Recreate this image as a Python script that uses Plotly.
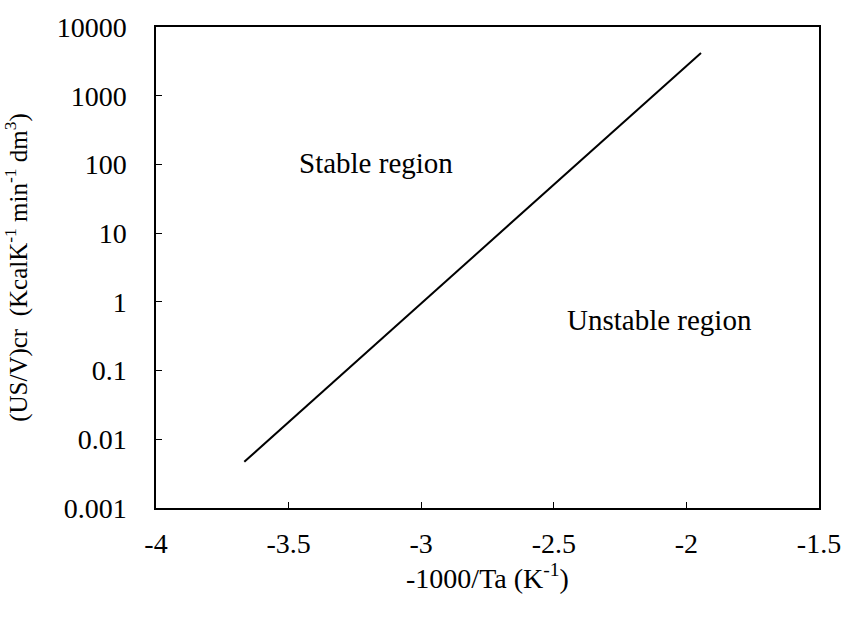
import math
import plotly.graph_objects as go

# Data
x_line = [-3.667, -1.945]
y_line = [0.0047, 4200]

x_tickvals = [-4, -3.5, -3, -2.5, -2, -1.5]
x_ticktext = ["-4", "-3.5", "-3", "-2.5", "-2", "-1.5"]
y_tickvals = [0.001, 0.01, 0.1, 1, 10, 100, 1000, 10000]
y_ticktext = ["0.001", "0.01", "0.1", "1", "10", "100", "1000", "10000"]

labels = ["Stable region", "Unstable region"]
label_x = [-3.17, -2.1]
label_y = [105, 0.55]

FONT = "Liberation Serif, Times New Roman, serif"

fig = go.Figure()
fig.add_trace(go.Scatter(x=x_line, y=y_line, mode="lines",
                         line=dict(color="black", width=2), showlegend=False))

for t, xx, yy in zip(labels, label_x, label_y):
    # annotations on a log axis take log10 positions
    fig.add_annotation(x=xx, y=math.log10(yy), yref="y", xref="x", text=t, showarrow=False,
                       font=dict(family=FONT, size=29, color="black"))

fig.update_layout(
    width=853, height=618,
    margin=dict(l=156, r=23, t=23, b=110),
    paper_bgcolor="white", plot_bgcolor="white",
    font=dict(family=FONT, size=28, color="black"),
    showlegend=False,
)
fig.update_xaxes(range=[-4, -1.5], tickvals=x_tickvals, ticktext=x_ticktext,
                 showgrid=False, zeroline=False, showline=True, linecolor="black",
                 linewidth=1.5, mirror=True, ticks="inside", ticklen=6, tickcolor="black",
                 ticklabelstandoff=10,
                 title=dict(text="-1000/Ta (K<sup>-1</sup>)", standoff=10,
                            font=dict(family=FONT, size=28)))
fig.update_yaxes(type="log", range=[-3, 4], tickvals=y_tickvals, ticktext=y_ticktext,
                 showgrid=False, zeroline=False, showline=True, linecolor="black",
                 linewidth=1.5, mirror=True, ticks="inside", ticklen=6, tickcolor="black",
                 ticklabelstandoff=22,
                 title=dict(text="(US/V)cr  (KcalK<sup>-1</sup> min<sup>-1</sup> dm<sup>3</sup>)",
                            standoff=24, font=dict(family=FONT, size=25)))

fig.write_html("out.html")
